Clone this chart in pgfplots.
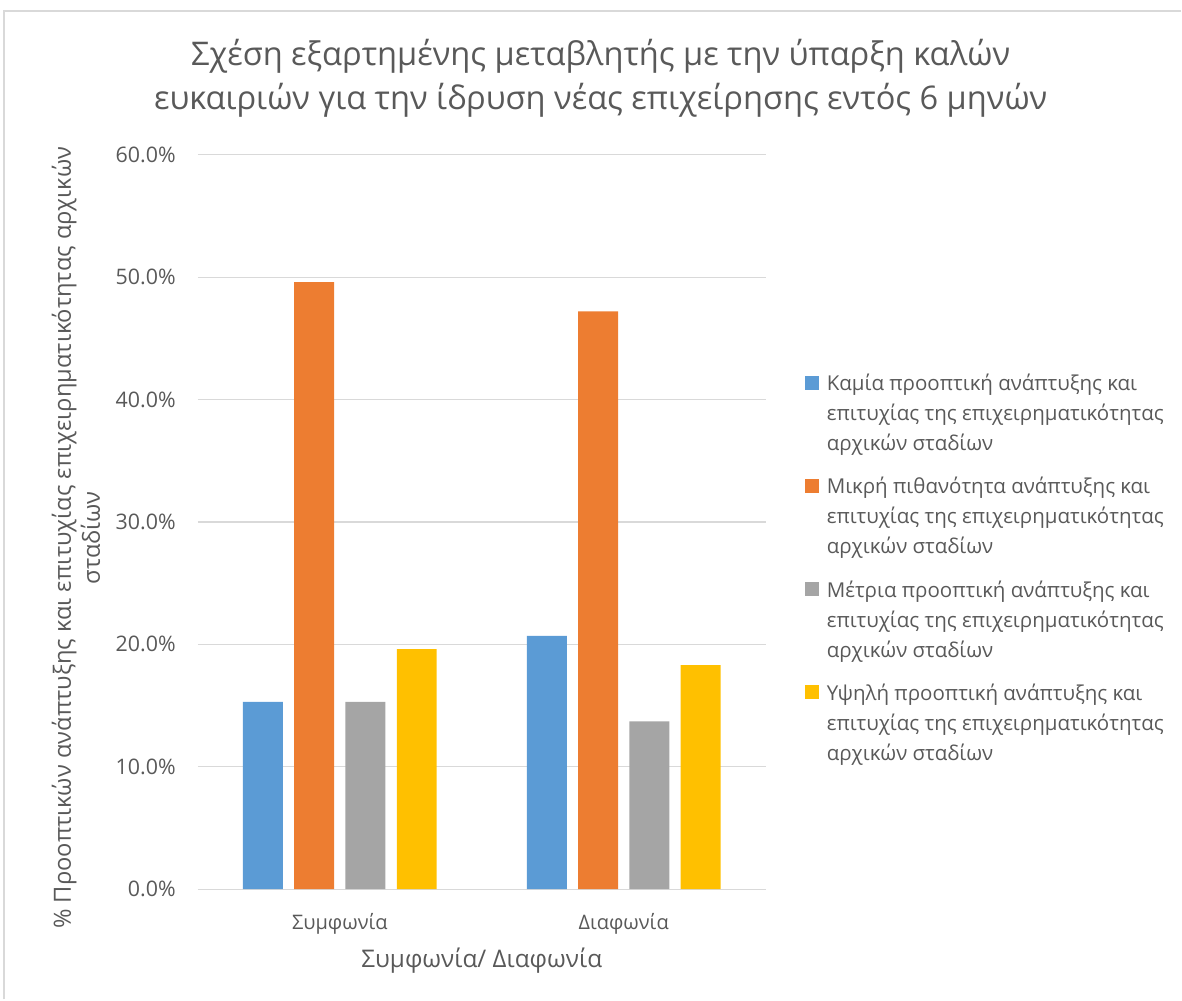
\documentclass[border=0pt]{standalone}
\usepackage{pgfplots}
\pgfplotsset{compat=1.18}
\usepackage{fontspec}
\setmainfont{Open Sans}
\definecolor{cblue}{HTML}{5B9BD5}
\definecolor{corange}{HTML}{ED7D31}
\definecolor{cgray}{HTML}{A5A5A5}
\definecolor{cyellow}{HTML}{FFC000}
\definecolor{txt}{HTML}{595959}
\definecolor{gridc}{HTML}{D9D9D9}
\newcommand{\legtext}[3]{\vtop{\baselineskip=30bp\hbox{\rule{0pt}{17bp}#1}\hbox{#2}\hbox{\rule[-6bp]{0pt}{6bp}#3}}}
\begin{document}
\begin{tikzpicture}[x=1bp,y=1bp]
\path (0,0) rectangle (1182,1000);
\draw[gridc, line width=1.2bp] (4,0) -- (4,989) -- (1182,989);
\node[font=\fontsize{32.6bp}{44bp}\selectfont, text=txt, align=center, anchor=base] at (601,890)
  {Σχέση εξαρτημένης μεταβλητής με την ύπαρξη καλών\\ευκαιριών για την ίδρυση νέας επιχείρησης εντός 6 μηνών};
\node[font=\fontsize{23.7bp}{29bp}\selectfont, text=txt, align=center, rotate=90] at (76,462)
  {\% Προοπτικών ανάπτυξης και επιτυχίας επιχειρηματικότητας αρχικών\\σταδίων};
\node[font=\fontsize{24.3bp}{30bp}\selectfont, text=txt, anchor=base] at (482,32) {Συμφωνία/ Διαφωνία};
\begin{axis}[
  at={(198bp,110.4bp)}, anchor=south west, scale only axis,
  width=568bp, height=734.8bp,
  ymin=0, ymax=60, xmin=-0.5, xmax=1.5,
  ytick={0,10,20,30,40,50,60},
  yticklabels={0.0\%,10.0\%,20.0\%,30.0\%,40.0\%,50.0\%,60.0\%},
  xtick={0,1}, xticklabels={Συμφωνία,Διαφωνία},
  ymajorgrids, grid style={gridc, line width=1.2bp},
  axis line style={draw=none},
  major tick length=0pt,
  tick label style={text=txt},
  yticklabel style={font=\fontsize{21.4bp}{24bp}\selectfont, inner sep=0pt, anchor=east, xshift=-22bp},
  xticklabel style={font=\fontsize{20bp}{24bp}\selectfont, inner sep=0pt, anchor=base, yshift=-40bp},
  ybar=11.3bp, bar width=40bp,
  legend style={at={(rel axis cs:1,1)}, anchor=north west, xshift=39bp, yshift=-219bp,
    draw=none, fill=none, inner sep=0pt, row sep=84.7bp, column sep=8bp,
    font=\fontsize{20.5bp}{30bp}\selectfont, text=txt,
    cells={anchor=base west}, nodes={inner sep=0pt}},
  legend image code/.code={\fill[#1] (0bp,1bp) rectangle (14bp,15bp);},
]
\addplot[fill=cblue, draw=none] coordinates {(0,15.3) (1,20.7)};
\addplot[fill=corange, draw=none] coordinates {(0,49.6) (1,47.2)};
\addplot[fill=cgray, draw=none] coordinates {(0,15.3) (1,13.7)};
\addplot[fill=cyellow, draw=none] coordinates {(0,19.6) (1,18.3)};
\addlegendentry{\legtext{Καμία προοπτική ανάπτυξης και}{επιτυχίας της επιχειρηματικότητας}{αρχικών σταδίων}}
\addlegendentry{\legtext{Μικρή πιθανότητα ανάπτυξης και}{επιτυχίας της επιχειρηματικότητας}{αρχικών σταδίων}}
\addlegendentry{\legtext{Μέτρια προοπτική ανάπτυξης και}{επιτυχίας της επιχειρηματικότητας}{αρχικών σταδίων}}
\addlegendentry{\legtext{Υψηλή προοπτική ανάπτυξης και}{επιτυχίας της επιχειρηματικότητας}{αρχικών σταδίων}}
\end{axis}
\end{tikzpicture}
\end{document}
